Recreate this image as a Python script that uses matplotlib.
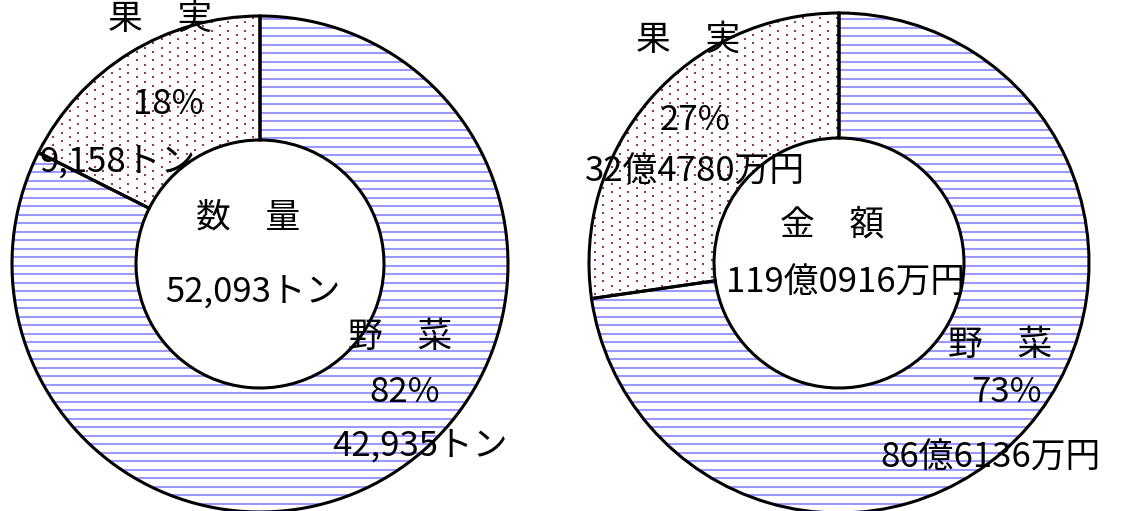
import numpy as np
import matplotlib.pyplot as plt

plt.rcParams['font.family'] = ['Noto Sans CJK JP', 'DejaVu Sans']

# data
labels = ['果　実', '野　菜']
qty = [9158, 42935]            # トン
amount = [32.4780, 86.6136]    # 億円
qty_text = ['9,158トン', '42,935トン']
amount_text = ['32億4780万円', '86億6136万円']
qty_total = '52,093トン'
amount_total = '119億0916万円'

W, H = 1121, 511
fig = plt.figure(figsize=(W / 100, H / 100), dpi=100)
ax = fig.add_axes([0, 0, 1, 1])

# texture grids (pixels), used as fill patterns
line_y = np.arange(2.2, H, 8.5)
rows = np.arange(0.9, H, 4.25)
dot_x, dot_y = [], []
for k, yy in enumerate(rows):
    xs = np.arange(3.3 + (k % 2) * 8.33, W, 16.67)
    dot_x.extend(xs)
    dot_y.extend([yy] * len(xs))


def donut(values, center, radius):
    # y axis is flipped, so start at -90 and go clockwise in data space
    wedges, _ = ax.pie(values, center=center, radius=radius, startangle=-90,
                       counterclock=False,
                       wedgeprops=dict(width=radius / 2, facecolor='white', linewidth=0))
    fruit, veg = wedges
    dots = ax.scatter(dot_x, dot_y, s=2.2, marker='s', color='#993366',
                      linewidths=0, zorder=2)
    dots.set_clip_path(fruit)
    lines = ax.hlines(line_y, 0, W, colors='#9999ff', linewidth=1.5, zorder=2)
    lines.set_clip_path(veg)
    # outlines on top
    outl, _ = ax.pie(values, center=center, radius=radius, startangle=-90, counterclock=False,
                     wedgeprops=dict(width=radius / 2, fill=False, edgecolor='black',
                                     linewidth=2.2))
    for w in outl:
        w.set_zorder(3)


donut(qty, (260, 264), 248)
donut(amount, (839, 263), 250)
ax.set_xlim(0, W)
ax.set_ylim(H, 0)
ax.set_aspect('equal')
ax.axis('off')

fs = 25
kw = dict(fontsize=fs, ha='center', va='center', zorder=5)
# left chart
ax.text(160, 19, labels[0], **kw)
ax.text(168, 105, f'{qty[0] / sum(qty):.0%}', **kw)
ax.text(118, 163, qty_text[0], **kw)
ax.text(248, 218, '数　量', **kw)
ax.text(253, 293, qty_total, **kw)
ax.text(400, 338, labels[1], **kw)
ax.text(405, 393, f'{qty[1] / sum(qty):.0%}', **kw)
ax.text(420, 447, qty_text[1], **kw)

# right chart
ax.text(688, 40, labels[0], **kw)
ax.text(695, 120, f'{amount[0] / sum(amount):.0%}', **kw)
ax.text(695, 172, amount_text[0], **kw)
ax.text(832, 225, '金　額', **kw)
ax.text(846, 283, amount_total, **kw)
ax.text(1000, 345, labels[1], **kw)
ax.text(1007, 392, f'{amount[1] / sum(amount):.0%}', **kw)
ax.text(990, 458, amount_text[1], **kw)

fig.savefig('out.png', dpi=100)
